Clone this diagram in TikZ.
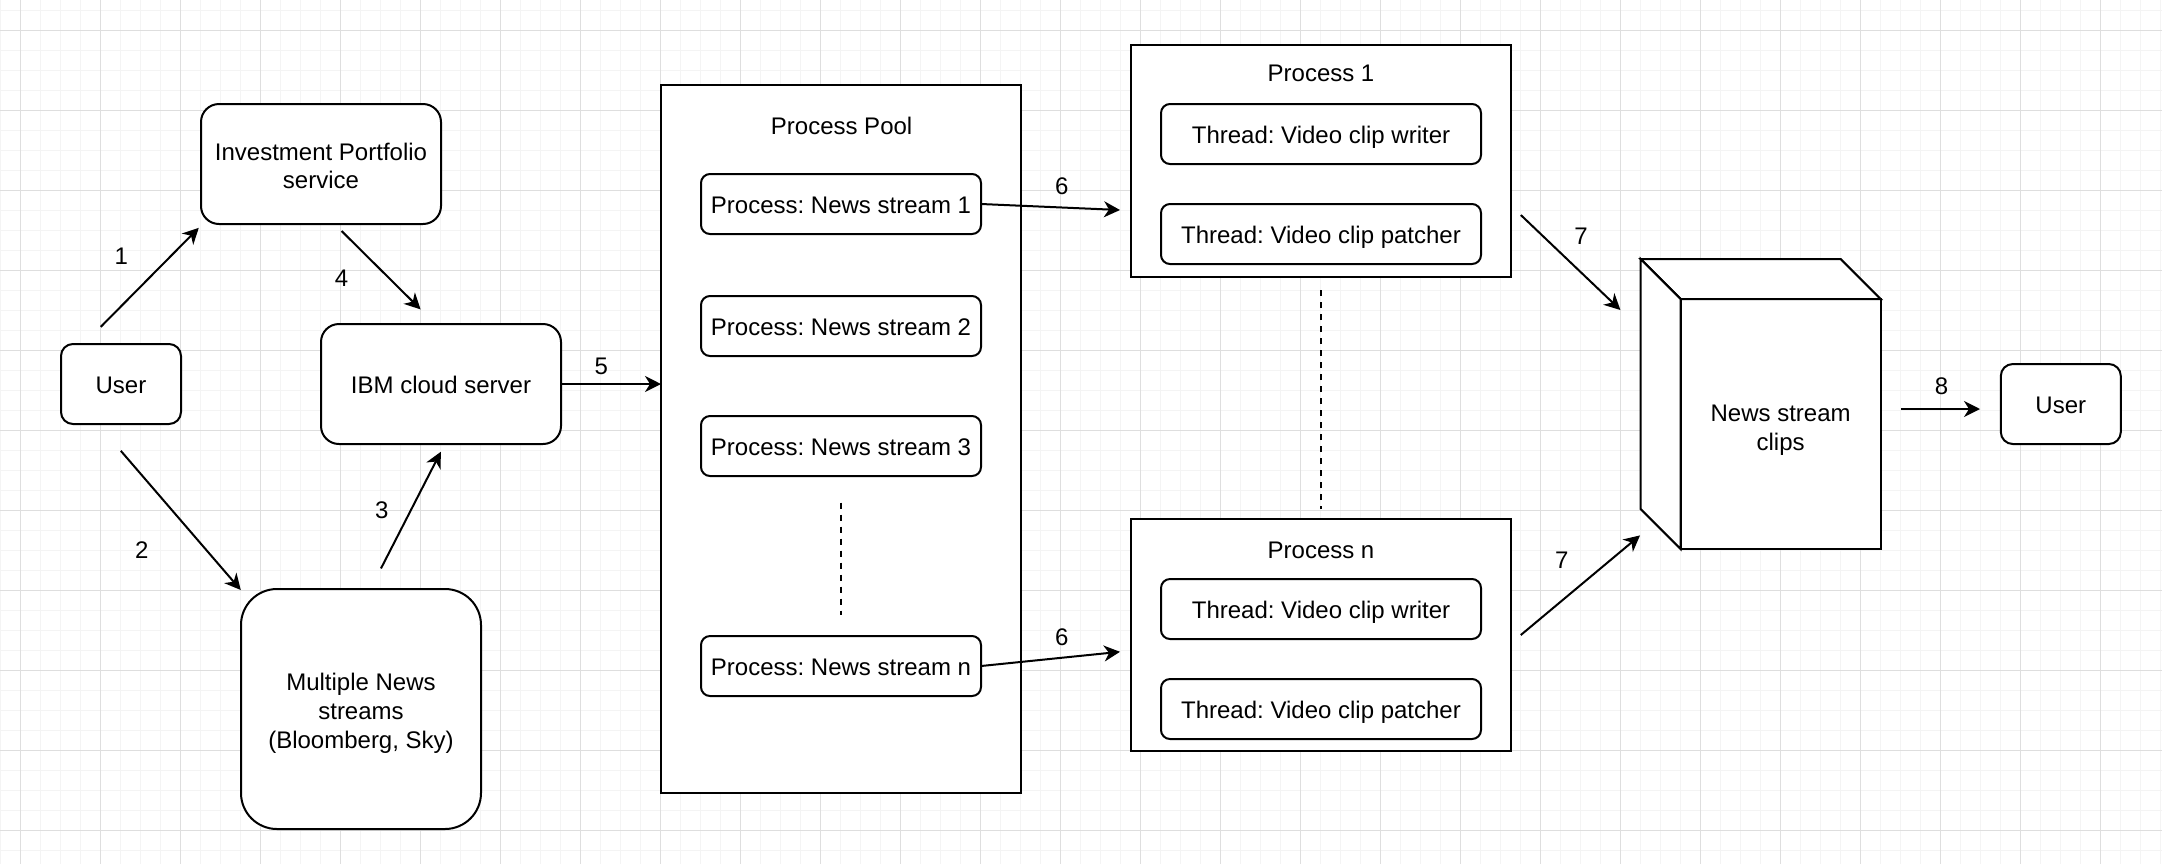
\documentclass[tikz,border=0pt]{standalone}
\usepackage{fontspec}
\setmainfont{Liberation Sans}
\usetikzlibrary{arrows.meta}
\definecolor{gridminor}{RGB}{244,244,244}
\definecolor{gridmajor}{RGB}{222,222,222}
\newcommand{\linestrut}{\rule[-2.34pt]{0pt}{14.4pt}}
\frenchspacing

\begin{document}
\begin{tikzpicture}[x=1pt,y=-1pt,font=\fontsize{12}{14.4}\selectfont,
  box/.style={shape=rectangle,draw=black,line width=1pt,fill=white,inner sep=0pt,outer sep=0pt,align=center,
    execute at begin node=\linestrut,execute at end node=\linestrut},
  rbox/.style={box,rounded corners=#1},
  lower/.style={execute at begin node={\rule{0pt}{#1}}},
  arr/.style={line width=1pt,-{Stealth[length=8pt,width=8pt,inset=2.5pt]}},
  dots/.style={line width=1pt,dash pattern=on 3pt off 3pt}]
  \useasboundingbox (0,0) rectangle (1081,432);
  \fill[white] (0,0) rectangle (1081,432);
  % background grid
  \foreach \x in {0.15,10.15,...,1081} \draw[gridminor,line width=0.5pt] (\x,0) -- (\x,432);
  \foreach \y in {5.15,15.15,...,432} \draw[gridminor,line width=0.5pt] (0,\y) -- (1081,\y);
  \foreach \x in {10.15,50.15,...,1081} \draw[gridmajor,line width=0.5pt] (\x,0) -- (\x,432);
  \foreach \y in {15.15,55.15,...,432} \draw[gridmajor,line width=0.5pt] (0,\y) -- (1081,\y);

  \node[rbox=6pt,minimum width=60pt,minimum height=40pt] (user) at (60.5,192) {User};
  \node[rbox=9pt,lower=27.2pt,minimum width=120pt,minimum height=60pt] (portfolio) at (160.5,82) {Investment Portfolio\\service};
  \node[rbox=9pt,minimum width=120pt,minimum height=60pt] (ibm) at (220.5,192) {IBM cloud server};
  \node[rbox=18pt,lower=41.6pt,minimum width=120pt,minimum height=120pt] (feeds) at (180.5,354.5) {Multiple News\\streams\\(Bloomberg, Sky)};

  % process pool
  \node[box,minimum width=180pt,minimum height=354pt] (pool) at (420.5,219.5) {};
  \node (poolname) at (420.8,62.8) {Process Pool};
  \node[rbox=4.5pt,minimum width=140pt,minimum height=30pt] (ns1) at (420.5,102) {Process: News stream 1};
  \node[rbox=4.5pt,minimum width=140pt,minimum height=30pt] (ns2) at (420.5,163) {Process: News stream 2};
  \node[rbox=4.5pt,minimum width=140pt,minimum height=30pt] (ns3) at (420.5,223) {Process: News stream 3};
  \node[rbox=4.5pt,minimum width=140pt,minimum height=30pt] (nsn) at (420.5,333) {Process: News stream n};
  \coordinate (pooldotsA) at (420.4,251.3);
  \coordinate (pooldotsB) at (420.4,307.7);

  % worker processes
  \node[box,minimum width=190pt,minimum height=116pt] (proc1) at (660.5,80.5) {};
  \node (proc1name) at (660.5,36.7) {Process 1};
  \node[rbox=4.5pt,minimum width=160pt,minimum height=30pt] (writer1) at (660.5,67) {Thread: Video clip writer};
  \node[rbox=4.5pt,minimum width=160pt,minimum height=30pt] (patcher1) at (660.5,117) {Thread: Video clip patcher};
  \node[box,minimum width=190pt,minimum height=116pt] (procn) at (660.5,317.5) {};
  \node (procnname) at (660.5,275) {Process n};
  \node[rbox=4.5pt,minimum width=160pt,minimum height=30pt] (writern) at (660.5,304.5) {Thread: Video clip writer};
  \node[rbox=4.5pt,minimum width=160pt,minimum height=30pt] (patchern) at (660.5,354.5) {Thread: Video clip patcher};
  \coordinate (procdotsA) at (660.4,145);
  \coordinate (procdotsB) at (660.4,254.7);

  % storage cube
  \node[box,lower=28.5pt,minimum width=100pt,minimum height=125pt] (clips) at (890.3,212) {News stream\\clips};
  \draw[line width=1pt,fill=white] (clips.north west) -- ++(-20,-20) -- ([shift={(-20,-20)}]clips.north east) -- (clips.north east) -- cycle;
  \draw[line width=1pt,fill=white] (clips.north west) -- ++(-20,-20) -- ([shift={(-20,-20)}]clips.south west) -- (clips.south west) -- cycle;
  \node[rbox=6pt,minimum width=60pt,minimum height=40pt] (viewer) at (1030.4,202) {User};

  % free arrow ends
  \coordinate (a1s) at (50.4,163.4);
  \coordinate (a1e) at (99.4,113.9);
  \coordinate (a2s) at (60.4,225.4);
  \coordinate (a2e) at (120.4,295);
  \coordinate (a3s) at (190.5,284.2);
  \coordinate (a3e) at (220.4,225.9);
  \coordinate (a4s) at (170.8,115.5);
  \coordinate (a4e) at (210.3,154.7);
  \coordinate (a6e) at (560,105);
  \coordinate (a6ne) at (560,325.9);
  \coordinate (a7s) at (760.4,107.5);
  \coordinate (a7e) at (810.2,155);
  \coordinate (a7ns) at (760.4,317.5);
  \coordinate (a7ne) at (820,267.7);
  \coordinate (a8s) at (950.5,204.5);
  \coordinate (a8e) at (990,204.5);

  \path (a1s) edge[arr] (a1e);
  \path (a2s) edge[arr] (a2e);
  \path (a3s) edge[arr] (a3e);
  \path (a4s) edge[arr] (a4e);
  \path (ibm.east) edge[arr] (ibm.east -| pool.west);
  \path (ns1.east) edge[arr] (a6e);
  \path (nsn.east) edge[arr] (a6ne);
  \path (a7s) edge[arr] (a7e);
  \path (a7ns) edge[arr] (a7ne);
  \path (a8s) edge[arr] (a8e);
  \path (pooldotsA) edge[dots] (pooldotsB);
  \path (procdotsA) edge[dots] (procdotsB);

  \node (n1) at (60.7,128) {1};
  \node (n2) at (70.9,275) {2};
  \node (n3) at (190.9,255) {3};
  \node (n4) at (170.8,139) {4};
  \node (n5) at (300.7,183.4) {5};
  \node (n6) at (530.9,93) {6};
  \node (n6n) at (530.9,318.4) {6};
  \node (n7) at (790.5,118) {7};
  \node (n7n) at (780.9,280) {7};
  \node (n8) at (970.8,192.9) {8};
\end{tikzpicture}
\end{document}
